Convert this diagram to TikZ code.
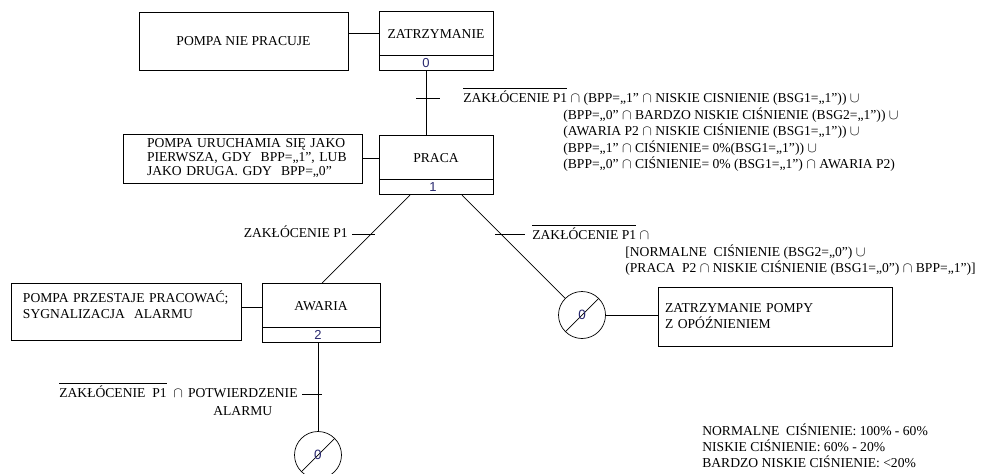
\documentclass[tikz,border=0pt]{standalone}
\usepackage{fontspec}
\setmainfont{Liberation Serif}
\newfontfamily\numfont{Liberation Sans}
\usetikzlibrary{shapes.multipart}
\definecolor{numblue}{RGB}{40,40,110}
\newcommand{\notsig}[1]{\leavevmode\setbox0=\hbox{#1}\rlap{\rule[13.5pt]{\wd0}{0.6pt}}\box0{}}
\newcommand{\stepno}[2]{{\numfont\fontsize{13}{13}\selectfont\color{numblue}\rule[-2.5pt]{0pt}{15pt}\kern#2\relax#1}}
\tikzset{
  txt/.style={font=\fontsize{13.6}{16.5}\selectfont, inner sep=0pt},
  stepbox/.style={draw, rectangle split, rectangle split parts=2, inner sep=0pt,
    text width=114pt, align=center, font=\fontsize{13.6}{16.5}\selectfont},
  descbox/.style={draw, align=left, inner ysep=0pt, font=\fontsize{13.6}{14}\selectfont},
  stopcircle/.style={draw, circle, minimum size=47pt, inner sep=0pt,
    font=\numfont\fontsize{13.5}{14}\selectfont, text=numblue,
    path picture={\draw[black] (path picture bounding box.south west) -- (path picture bounding box.north east);}}
}
\begin{document}
\begin{tikzpicture}[x=1pt, y=-1pt, line width=0.7pt]
\useasboundingbox (0,0) rectangle (986,474);

\node[descbox, minimum width=209pt, minimum height=58pt] (idle) at (243.5,41) {POMPA NIE PRACUJE};
\node[stepbox, anchor=north] (stop) at (436,11) {\rule[-16.5pt]{0pt}{43pt}ZATRZYMANIE\nodepart{two}\stepno{0}{-20pt}};

\node[descbox, text width=191pt, inner xsep=24pt, minimum height=49pt] (rundesc) at (242.5,158.5)
  {\mbox{POMPA URUCHAMIA SIĘ JAKO}\\\mbox{PIERWSZA, GDY\ \ BPP=„1”, LUB}\\\mbox{JAKO DRUGA. GDY\ \ BPP=„0”}};
\node[stepbox, anchor=north] (run) at (436,135) {\rule[-16.5pt]{0pt}{43pt}PRACA\nodepart{two}\stepno{1}{-6pt}};

\node[descbox, text width=206pt, inner xsep=12pt, minimum height=57pt, font=\fontsize{13.6}{16}\selectfont] (faildesc) at (126,311.5)
  {\mbox{POMPA PRZESTAJE PRACOWAĆ;}\\SYGNALIZACJA\ \ ALARMU\rule[-13pt]{0pt}{13pt}};
\node[stepbox, anchor=north, text width=118pt] (fail) at (321,283) {\rule[-16.5pt]{0pt}{43pt}AWARIA\nodepart{two}\stepno{2}{-6pt}};

\node[stopcircle] (halt1) at (582,315) {0};
\node[descbox, text width=220pt, inner xsep=7pt, minimum height=59pt, font=\fontsize{13.6}{16}\selectfont] (haltdesc) at (775,316.5)
  {ZATRZYMANIE POMPY\\Z OPÓŹNIENIEM};
\node[stopcircle] (halt2) at (318,455) {0};

\draw ([yshift=8pt]idle.east) -- ([yshift=8pt]idle.east -| stop.west);
\draw (rundesc.east) -- (rundesc.east -| run.west);
\draw ([yshift=4.5pt]faildesc.east) -- ([yshift=4.5pt]faildesc.east -| fail.west);
\draw (halt1.east) -- (halt1.east -| haltdesc.west);

\draw ([xshift=-10pt]stop.south) -- coordinate[pos=0.42] (t1) ([xshift=-10pt]run.north);
\draw ([xshift=-26pt]run.south) -- coordinate[pos=0.45] (t2) ([xshift=1pt]fail.north);
\draw ([xshift=26pt]run.south) -- coordinate[pos=0.38] (t3) (halt1);
\draw ([xshift=-3pt]fail.south) -- coordinate[pos=0.58] (t4) (halt2);

\draw ([xshift=-10pt]t1) -- ([xshift=14pt]t1);
\draw ([xshift=-18pt]t2) -- ([xshift=5pt]t2);
\draw ([xshift=-6pt]t3) -- ([xshift=24pt]t3);
\draw ([xshift=-16pt]t4) -- ([xshift=4pt]t4);

\node[txt, anchor=base west] (cond1) at (463,102.5) {\begin{tabular}[t]{@{}l@{}}
  \notsig{ZAKŁÓCENIE P1} $\cap$ (BPP=„1” $\cap$ NISKIE CISNIENIE (BSG1=„1”)) $\cup$\\
  \hspace*{100pt}(BPP=„0” $\cap$ BARDZO NISKIE CIŚNIENIE (BSG2=„1”)) $\cup$\\
  \hspace*{100pt}(AWARIA P2 $\cap$ NISKIE CIŚNIENIE (BSG1=„1”)) $\cup$\\
  \hspace*{100pt}(BPP=„1” $\cap$ CIŚNIENIE= 0\%(BSG1=„1”)) $\cup$\\
  \hspace*{100pt}(BPP=„0” $\cap$ CIŚNIENIE= 0\% (BSG1=„1”) $\cap$ AWARIA P2)
\end{tabular}};
\node[txt, anchor=base east] (cond2) at (348,237.5) {ZAKŁÓCENIE P1};
\node[txt, anchor=base west] (cond3) at (532,239.5) {\begin{tabular}[t]{@{}l@{}}
  \notsig{ZAKŁÓCENIE P1} $\cap$\\
  \hspace*{93pt}[NORMALNE\ \ CIŚNIENIE (BSG2=„0”) $\cup$\\
  \hspace*{93pt}(PRACA\ \ P2 $\cap$ NISKIE CIŚNIENIE (BSG1=„0”) $\cap$ BPP=„1”)]
\end{tabular}};
\node[txt, anchor=base west] (cond4) at (59,397.5) {\begin{tabular}[t]{@{}l@{\hspace{5pt}}c@{}}
  \notsig{ZAKŁÓCENIE\ \ P1}\ \ $\cap$ & POTWIERDZENIE\\[1.5pt]
  & ALARMU
\end{tabular}};

\node[txt, font=\fontsize{13.6}{15}\selectfont, anchor=base west] (scale) at (702,435.5) {\begin{tabular}[t]{@{}l@{}}
  NORMALNE\ \ CIŚNIENIE: 100\% - 60\%\\
  NISKIE CIŚNIENIE: 60\% - 20\%\\
  BARDZO NISKIE CIŚNIENIE: <20\%
\end{tabular}};
\end{tikzpicture}
\end{document}
